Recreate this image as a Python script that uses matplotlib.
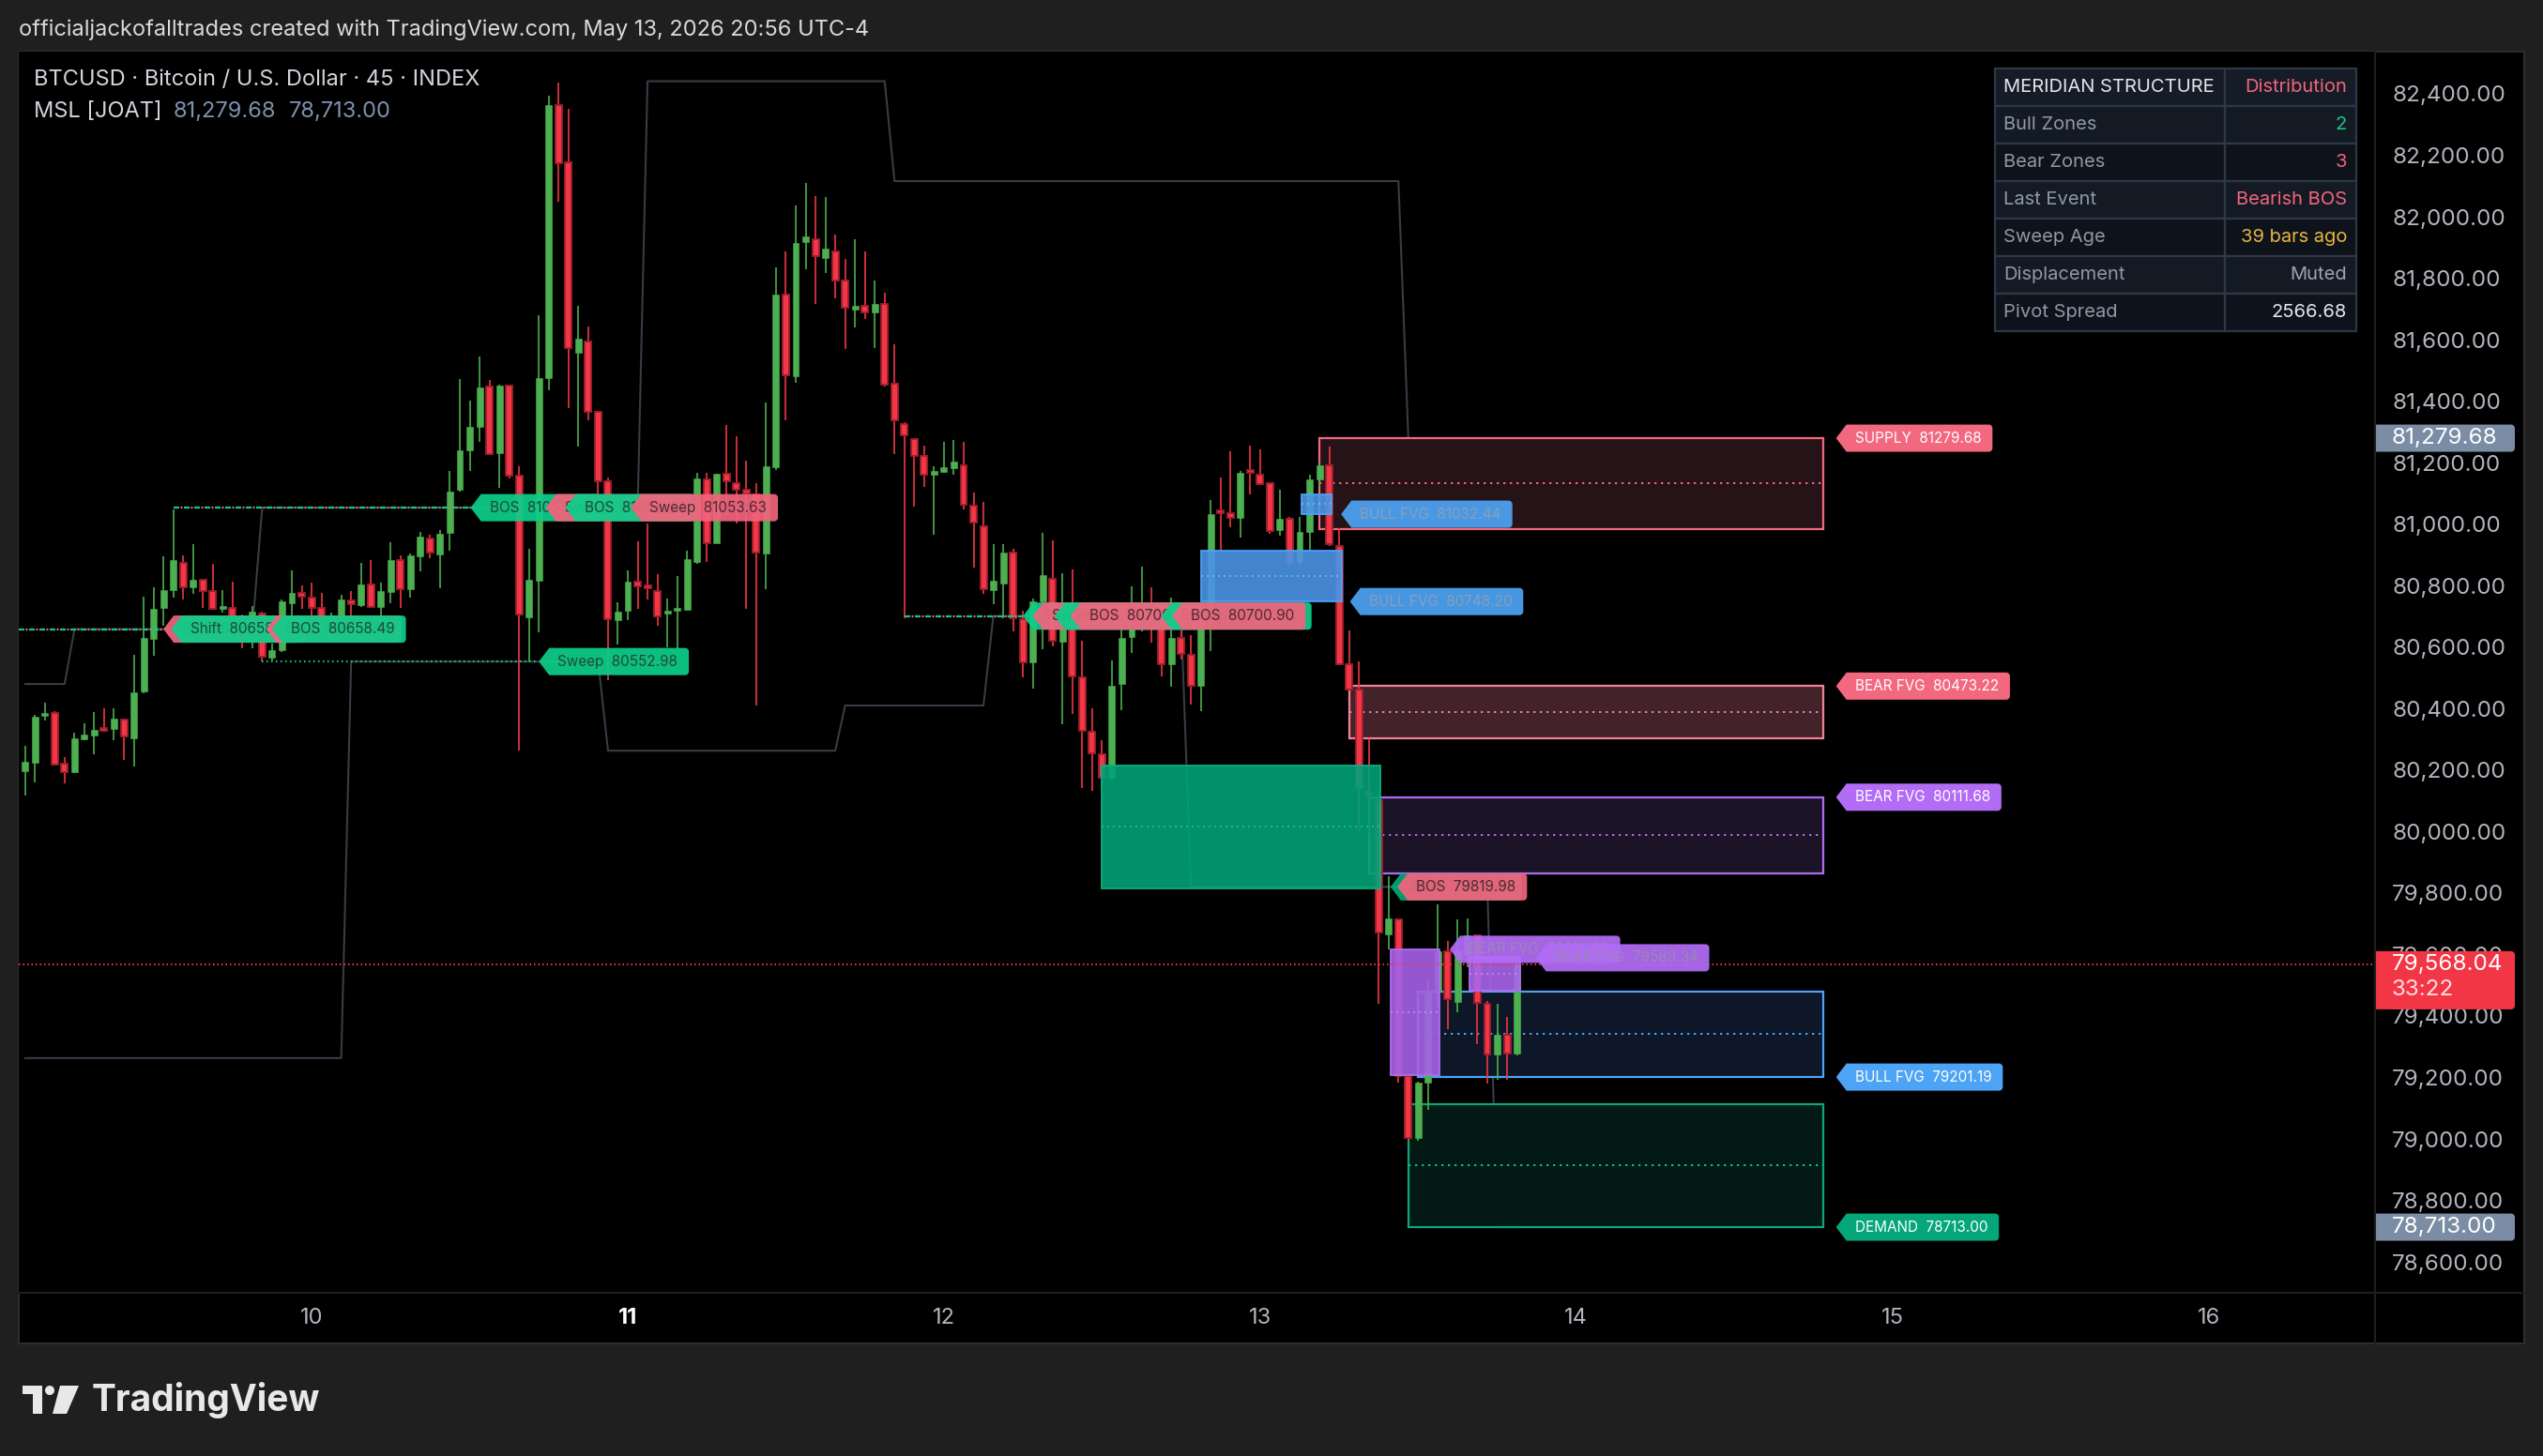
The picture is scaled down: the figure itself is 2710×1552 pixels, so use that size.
import numpy as np
import pandas as pd
import matplotlib
matplotlib.use("Agg")
import matplotlib.pyplot as plt
from matplotlib.patches import Rectangle, Polygon, Circle
from matplotlib.ticker import FuncFormatter

plt.rcParams['font.family'] = ['Inter', 'DejaVu Sans']

W, H = 2710, 1552

# ---- 45m candles ----
opens = [80197, 80225, 80377, 80387, 80220, 80194, 80300, 80313, 80333, 80335,
         80365, 80304, 80457, 80627, 80728, 80786, 80874, 80795, 80818, 80782,
         80723, 80729, 80699, 80640, 80709, 80567, 80589, 80743, 80776, 80762,
         80726, 80692, 80696, 80752, 80737, 80803, 80732, 80780, 80884, 80787,
         80896, 80954, 80900, 80973, 81112, 81239, 81315, 81447, 81232, 81450,
         81158, 80698, 80815, 81474, 82363, 82176, 81557, 81595, 81364, 81141,
         80688, 80717, 80812, 80798, 80783, 80710, 80717, 80722, 80878, 81145,
         80938, 81163, 81133, 81111, 81097, 80903, 81185, 81747, 81481, 81918,
         81928, 81867, 81888, 81792, 81697, 81709, 81690, 81715, 81458, 81326,
         81276, 81223, 81161, 81170, 81183, 81192, 81060, 80994, 80785, 80806,
         80908, 80691, 80550, 80748, 80822, 80617, 80690, 80501, 80325, 80252,
         80175, 80479, 80634, 80690, 80740, 80700, 80545, 80629, 80574, 80474,
         80660, 81043, 81035, 81020, 81173, 81160, 81132, 80981, 81016, 80878,
         80974, 81147, 81190, 80929, 80545, 80463, 80130, 80102, 79666, 79713,
         79205, 79002, 79183, 79480, 79610, 79446, 79600, 79663, 79440, 79275,
         79338, 79279]
highs = [80279, 80379, 80419, 80393, 80241, 80322, 80351, 80388, 80400, 80400,
         80368, 80574, 80764, 80794, 80894, 81047, 80899, 80935, 80820, 80871,
         80785, 80813, 80705, 80735, 80715, 80610, 80755, 80850, 80800, 80810,
         80775, 80712, 80769, 80782, 80874, 80882, 80810, 80940, 80898, 80904,
         80976, 80967, 80980, 81174, 81472, 81402, 81545, 81469, 81455, 81452,
         81188, 80920, 81681, 82394, 82438, 82350, 81709, 81643, 81367, 81151,
         80747, 80849, 80944, 81002, 80837, 80758, 80831, 80915, 81167, 81167,
         81163, 81323, 81287, 81207, 81133, 81396, 81834, 81886, 82037, 82110,
         82067, 82063, 81943, 81863, 81928, 81886, 81792, 81752, 81584, 81333,
         81276, 81256, 81187, 81269, 81274, 81269, 81104, 81071, 80935, 80935,
         80921, 80717, 80757, 80971, 80948, 80839, 80852, 80621, 80402, 80298,
         80557, 80687, 80799, 80861, 80795, 80740, 80760, 80655, 80640, 80700,
         81078, 81152, 81236, 81173, 81255, 81244, 81132, 81113, 81024, 81024,
         81160, 81200, 81252, 80986, 80655, 80555, 80302, 80102, 79856, 79713,
         79206, 79185, 79520, 79764, 79643, 79714, 79717, 79663, 79450, 79440,
         79397, 79582]
lows = [80118, 80159, 80362, 80215, 80158, 80190, 80296, 80252, 80324, 80298,
        80234, 80213, 80450, 80572, 80670, 80760, 80755, 80772, 80726, 80722,
        80711, 80680, 80597, 80597, 80553, 80556, 80585, 80700, 80724, 80700,
        80660, 80660, 80690, 80696, 80731, 80729, 80696, 80744, 80729, 80760,
        80846, 80888, 80793, 80914, 81107, 81173, 81268, 81224, 81119, 81148,
        80265, 80554, 80647, 81436, 82050, 81379, 81253, 81338, 81090, 80491,
        80608, 80688, 80725, 80754, 80671, 80600, 80593, 80722, 80871, 80878,
        80938, 81031, 81002, 80725, 80411, 80788, 81177, 81338, 81460, 81828,
        81716, 81818, 81735, 81571, 81640, 81666, 81573, 81448, 81229, 80693,
        81057, 81121, 80967, 81166, 81160, 81047, 80859, 80773, 80740, 80693,
        80650, 80501, 80466, 80592, 80601, 80348, 80382, 80141, 80133, 80140,
        80170, 80395, 80581, 80650, 80614, 80505, 80471, 80560, 80412, 80391,
        80586, 80917, 80990, 80955, 81098, 81130, 80968, 80963, 80863, 80863,
        80917, 81120, 80930, 80540, 80460, 80000, 79985, 79440, 79617, 79184,
        78995, 78994, 79096, 79430, 79358, 79411, 79560, 79307, 79180, 79193,
        79193, 79272]
closes = [80226, 80373, 80387, 80218, 80192, 80302, 80314, 80330, 80328, 80366,
          80308, 80452, 80630, 80724, 80784, 80882, 80795, 80819, 80783, 80724,
          80733, 80701, 80640, 80715, 80569, 80590, 80750, 80776, 80763, 80726,
          80695, 80700, 80754, 80740, 80803, 80732, 80782, 80884, 80790, 80898,
          80958, 80907, 80970, 81107, 81239, 81315, 81446, 81228, 81452, 81158,
          80707, 80820, 81474, 82363, 82173, 81572, 81602, 81364, 81138, 80691,
          80716, 80812, 80798, 80793, 80700, 80716, 80729, 80885, 81148, 80938,
          81163, 81141, 81112, 81101, 80907, 81187, 81747, 81484, 81914, 81935,
          81871, 81895, 81792, 81703, 81710, 81690, 81715, 81454, 81339, 81289,
          81221, 81161, 81174, 81185, 81203, 81063, 81004, 80789, 80815, 80908,
          80693, 80550, 80749, 80835, 80621, 80690, 80504, 80329, 80254, 80175,
          80475, 80631, 80685, 80742, 80700, 80545, 80630, 80578, 80474, 80671,
          81032, 81037, 81020, 81167, 81167, 81130, 80978, 81016, 80878, 80974,
          81147, 81190, 80935, 80545, 80463, 80140, 80115, 79671, 79717, 79206,
          79002, 79183, 79480, 79610, 79455, 79612, 79663, 79443, 79275, 79338,
          79279, 79568.04]

first_bar = pd.Timestamp('2026-05-09 02:15')
bar_len = pd.Timedelta(minutes=45)
day_ticks = pd.date_range('2026-05-10', '2026-05-16', freq='D')

# pivot band (step lines): bar where each level starts
upper_start = [0, 5, 24, 63, 88, 140]
upper_level = [80480, 80658.49, 81053.63, 82441, 82116, 81279.68]
lower_start = [0, 33, 59, 83, 98, 118, 149]
lower_level = [79263, 80552.98, 80263, 80410, 80700.90, 79819.98, 78713.00]

# structure lines
struct_price = [80658.49, 81053.63, 80700.90]
struct_from = [-0.64, 15, 89]
struct_to = [14.0, 45.1, 101.0]
sweep_price, sweep_from, sweep_to = 80552.98, 24, 52.0

# event labels (arrow tip bar, price, text, style)
ev_x = [14.0, 14.8, 24.4, 25.0, 45.1, 52.7, 54.7, 61.3, 52.0,
        101.0, 102.0, 104.2, 105.8, 115.0, 116.1, 138.2, 138.9]
ev_price = [80658.49] * 4 + [81053.63] * 4 + [80552.98] + [80700.90] * 6 + [79819.98] * 2
ev_name = ['Shift', 'Shift', 'Shift', 'BOS', 'BOS', 'Sweep', 'BOS', 'Sweep', 'Sweep',
           'Sweep', 'Sweep', 'Sweep', 'BOS', 'Sweep', 'BOS', 'Shift', 'BOS']
ev_kind = ['bear', 'bull', 'bear', 'bull', 'bull', 'bear', 'bull', 'bear', 'bull',
           'bull', 'bear', 'bull', 'bear', 'bull', 'bear', 'bull2', 'bear']

# open zones
zone_name = ['SUPPLY', 'BEAR FVG', 'BEAR FVG', 'BULL FVG', 'DEMAND']
zone_top = [81279.68, 80473.22, 80111.68, 79480, 79114]
zone_bot = [80985, 80302, 79864, 79201.19, 78713.00]
zone_left = [131, 134, 136, 141, 140]
zone_label = [81279.68, 80473.22, 80111.68, 79201.19, 78713.00]
zone_right = 182
zone_fill = ['#261318', '#43222a', '#1b1427', '#0d1727', '#021a13']
zone_edge = ['#f2687f', '#f08497', '#b16cf0', '#4da3f5', '#0aa67a']
zone_mid = ['#f2687f', '#d98ab8', '#b16cf0', '#4da3f5', '#0fbf8a']
zone_tag = ['#f2687f', '#f2687f', '#b36cf5', '#4da3f5', '#04a67a']

# filled gaps
gap_top = [81098, 80914, 80215, 79617, 79592]
gap_bot = [81032.44, 80748.20, 79815, 79207, 79482]
gap_left = [129.2, 119.0, 109.0, 138.2, 146.2]
gap_right = [132.2, 133.3, 137.2, 143.2, 151.3]
gap_fill = ['#4a96ea', '#4a93e6', '#00a277', '#a561e8', '#a965ec']
gap_edge = ['#4da3f5', '#4da3f5', '#0cae80', '#b070f2', '#b070f2']
gap_midc = ['#8cc4fa', '#8cc4fa', '#3ccc9f', '#cda2f8', '#cda2f8']

fvg_x = [133.2, 134.1, 144.2, 152.9]
fvg_price = [81032.44, 80748.20, 79616.80, 79589.34]
fvg_name = ['BULL FVG', 'BULL FVG', 'BEAR FVG', 'BEAR FVG']

last_price = 79568.04
tbl_rows = ['MERIDIAN STRUCTURE', 'Bull Zones', 'Bear Zones', 'Last Event',
            'Sweep Age', 'Displacement', 'Pivot Spread']
tbl_vals = ['Distribution', '2', '3', 'Bearish BOS', '39 bars ago', 'Muted', '2566.68']
tbl_val_col = ['#f2647d', '#14c98b', '#f2647d', '#f2647d', '#e5b53d', '#9aa3b2', '#e6e8ee']

# ---- figure ----
fig = plt.figure(figsize=(W / 100, H / 100), dpi=100, facecolor='#1f1f1f')

bg = fig.add_axes([20 / W, 1 - 1432 / H, 2670 / W, 1377 / H], zorder=0)
bg.set_facecolor('black')
bg.set_xticks([])
bg.set_yticks([])
for s in bg.spines.values():
    s.set_color('#2d2d2d')
    s.set_linewidth(1.5)

ax = fig.add_axes([20 / W, 1 - 1377 / H, 2510 / W, 1322 / H], zorder=1)
ax.set_facecolor('black')
for s in ax.spines.values():
    s.set_visible(False)
xmin, xmax = -0.64, 237.75
ymin, ymax = 78502.6, 82537.3
ax.set_xlim(xmin, xmax)
ax.set_ylim(ymin, ymax)
pxb = 2510 / (xmax - xmin)      # px per bar
ppx = (ymax - ymin) / 1322      # price per px
sc = 0.72                       # pt per px

n = len(closes)
idx = np.arange(n)
o, c = np.array(opens, float), np.array(closes, float)
hi, lo = np.array(highs, float), np.array(lows, float)
up = c >= o


def expand(starts, levels):
    arr = np.empty(n)
    b = list(starts) + [n]
    for k, lv in enumerate(levels):
        arr[b[k]:b[k + 1]] = lv
    return arr


ax.plot(idx, expand(upper_start, upper_level), color='#383c46', lw=1.5, zorder=1.5)
ax.plot(idx, expand(lower_start, lower_level), color='#383c46', lw=1.5, zorder=1.5)

# zones
for k in range(len(zone_name)):
    ax.add_patch(Rectangle((zone_left[k], zone_bot[k]), zone_right - zone_left[k],
                           zone_top[k] - zone_bot[k], facecolor=zone_fill[k],
                           edgecolor=zone_edge[k], lw=1.6, zorder=2))
    ax.hlines((zone_top[k] + zone_bot[k]) / 2, zone_left[k], zone_right,
              colors=zone_mid[k], lw=1.4, linestyles=(0, (1.2, 2.4)), zorder=2.1)

# candles
ax.vlines(idx, lo, hi, colors=np.where(up, '#4caf50', '#f23645'), lw=1.2, zorder=3)
body_lo = np.minimum(o, c)
body_h = np.maximum(np.abs(c - o), 2.5 * ppx)
ax.bar(idx[up], body_h[up], bottom=body_lo[up], width=0.66, color='#4caf50',
       edgecolor='#4caf50', lw=0.4, zorder=3.1)
ax.bar(idx[~up], body_h[~up], bottom=body_lo[~up], width=0.66, color='#f23645',
       edgecolor='#a01f2e', lw=1.3, zorder=3.1)

# filled gaps
for k in range(len(gap_top)):
    ax.add_patch(Rectangle((gap_left[k], gap_bot[k]), gap_right[k] - gap_left[k],
                           gap_top[k] - gap_bot[k], facecolor=gap_fill[k], alpha=0.9,
                           edgecolor=gap_edge[k], lw=1.4, zorder=4))
    ax.hlines((gap_top[k] + gap_bot[k]) / 2, gap_left[k], gap_right[k], colors=gap_midc[k],
              lw=1.2, alpha=0.7, linestyles=(0, (1.2, 2.4)), zorder=4.1)

# structure lines (two-colour dash-dot)
for p, a, b in zip(struct_price, struct_from, struct_to):
    ax.hlines(p, a, b, colors='#10c98a', lw=1.6, linestyles=(0, (6 * sc / 1.6, 5 * sc / 1.6)), zorder=5)
    ax.hlines(p, a, b, colors='#f2647d', lw=1.6, linestyles=(3.5 * sc / 1.6, (2 * sc / 1.6, 9 * sc / 1.6)), zorder=5)
ax.hlines(sweep_price, sweep_from, sweep_to, colors='#10c98a', lw=1.6,
          linestyles=(0, (1.5 * sc / 1.6, 3.5 * sc / 1.6)), zorder=5)

ax.axhline(last_price, color='#f23645', lw=1.4, linestyle=(0, (1.5 * sc / 1.4, 3 * sc / 1.4)), zorder=4.5)

renderer = fig.canvas.get_renderer()


def shape(xl, y, aw, bw, top, bot, r):
    pts = [(0, 0), (aw, top)] if aw > 0 else [(0, top)]
    cx = aw + bw - r
    for a in np.linspace(90, 0, 7):
        pts.append((cx + r * np.cos(np.radians(a)), top - r + r * np.sin(np.radians(a))))
    for a in np.linspace(0, -90, 7):
        pts.append((cx + r * np.cos(np.radians(a)), bot + r + r * np.sin(np.radians(a))))
    pts.append((aw, bot) if aw > 0 else (0, bot))
    return [(xl + px / pxb, y + py * ppx) for px, py in pts]


def arrow_label(xtip, y, text, fc, tc, z, alpha=0.93, fs=11, h=29, aw=11, padl=9, padr=12):
    t = ax.text(xtip + (aw + padl) / pxb, y, text, color=tc, fontsize=fs,
                ha='left', va='center', zorder=z + 0.05)
    w = t.get_window_extent(renderer).width
    ax.add_patch(Polygon(shape(xtip, y, aw, padl + w + padr, h / 2, -h / 2, 4),
                         closed=True, facecolor=fc, edgecolor='none', alpha=alpha, zorder=z))


kind_fc = {'bull': '#0ccf8a', 'bear': '#f2647d', 'bull2': '#03a77a'}
kind_tc = {'bull': '#23463d', 'bear': '#4a2b33', 'bull2': '#1a3a33'}
z = 6
for x, p, nm, kd in zip(ev_x, ev_price, ev_name, ev_kind):
    arrow_label(x, p, f'{nm}  {p:.2f}', kind_fc[kd], kind_tc[kd], z)
    z += 0.2
for x, p, nm in zip(fvg_x, fvg_price, fvg_name):
    bull = nm.startswith('BULL')
    arrow_label(x, p, f'{nm}  {p:.2f}', '#4da3f5' if bull else '#b26cf7',
                '#86a0bb' if bull else '#9a88b3', z)
    z += 0.2
for k in range(len(zone_name)):
    arrow_label(zone_right + 1.3, zone_label[k], f'{zone_name[k]}  {zone_label[k]:.2f}',
                zone_tag[k], '#ffffff', z, alpha=1.0)
    z += 0.2

# price scale
ax.yaxis.tick_right()
ax.set_yticks(np.arange(78600, 82401, 200))
ax.yaxis.set_major_formatter(FuncFormatter(lambda v, _: f'{v:,.2f}'))
ax.tick_params(axis='y', length=0, pad=13.7, labelsize=17.4, labelcolor='#b2b5be')
tick_pos = ((day_ticks - first_bar) / bar_len).astype(float)
ax.set_xticks(tick_pos, [str(d.day) for d in day_ticks])
ax.tick_params(axis='x', length=0, pad=12, labelsize=17, labelcolor='#b2b5be')
for lab in ax.get_xticklabels():
    if lab.get_text() == '11':
        lab.set_fontweight('bold')
        lab.set_color('#ffffff')


def axis_tag(y, lines, fc, top, bot, colors):
    ax.add_patch(Polygon(shape(xmax + 2 / pxb, y, 0, 148, top, bot, 4), closed=True,
                         facecolor=fc, edgecolor='none', zorder=8, clip_on=False))
    for k, s in enumerate(lines):
        ax.text(xmax + 19 / pxb, y - k * 27 * ppx, s, color=colors[k], fontsize=17.4,
                ha='left', va='center', zorder=8.1, clip_on=False)


axis_tag(zone_top[0], [f'{zone_top[0]:,.2f}'], '#7b8da5', 14.5, -14.5, ['#ffffff'])
axis_tag(zone_bot[-1], [f'{zone_bot[-1]:,.2f}'], '#7b8da5', 14.5, -14.5, ['#ffffff'])
axis_tag(last_price, [f'{last_price:,.2f}', '33:22'], '#f23645', 14, -48, ['#ffffff', '#ffdfe2'])

# ---- overlay: header, legend, table, logo ----
ov = fig.add_axes([0, 0, 1, 1], zorder=5)
ov.set_xlim(0, W)
ov.set_ylim(H, 0)
ov.axis('off')

ov.plot([2530.5, 2530.5], [55, 1432], color='#1e1e1e', lw=1.5)
ov.plot([20, 2690], [1377.5, 1377.5], color='#1e1e1e', lw=1.5)

ov.text(20, 32, 'officialjackofalltrades created with TradingView.com, May 13, 2026 20:56 UTC-4',
        color='#d9d9d9', fontsize=17, va='center', ha='left')
ov.text(36, 85, 'BTCUSD · Bitcoin / U.S. Dollar · 45 · INDEX', color='#d1d4dc',
        fontsize=17, va='center', ha='left')
ov.text(36, 119, 'MSL [JOAT]', color='#d1d4dc', fontsize=17, va='center', ha='left')
ov.text(185, 119, f'{zone_top[0]:,.2f}', color='#7f91ad', fontsize=17, va='center', ha='left')
ov.text(308, 119, f'{zone_bot[-1]:,.2f}', color='#7f91ad', fontsize=17, va='center', ha='left')

tx0, tx1, txm, ty0, rh = 2126, 2511, 2371, 73, 40
row_bg = ['#151c27', '#141a24', '#0e131b', '#141a24', '#0e131b', '#141a24', '#0e131b']
for r, (lab, val) in enumerate(zip(tbl_rows, tbl_vals)):
    y0 = ty0 + r * rh
    for a, b in [(tx0, txm), (txm, tx1)]:
        ov.add_patch(Rectangle((a, y0), b - a, rh, facecolor=row_bg[r],
                               edgecolor='#2c3848', lw=1.6))
    ov.text(tx0 + 9, y0 + rh / 2, lab, color='#e3e6ec' if r == 0 else '#8f98a8',
            fontsize=14.5, va='center', ha='left')
    ov.text(tx1 - 10, y0 + rh / 2, val, color=tbl_val_col[r], fontsize=14.5,
            va='center', ha='right')

# TradingView logo
ov.add_patch(Rectangle((24, 1477), 21, 9, facecolor='#e8e8e8', edgecolor='none'))
ov.add_patch(Rectangle((35, 1477), 10, 30, facecolor='#e8e8e8', edgecolor='none'))
ov.add_patch(Circle((53, 1482), 5, facecolor='#e8e8e8', edgecolor='none'))
ov.add_patch(Polygon([(64, 1477), (84, 1477), (71, 1507), (56, 1507)], closed=True,
                     facecolor='#e8e8e8', edgecolor='none'))
ov.text(98, 1492, 'TradingView', color='#e8e8e8', fontsize=28, fontweight='bold',
        va='center', ha='left')

fig.savefig('out.png', dpi=100, facecolor=fig.get_facecolor())
